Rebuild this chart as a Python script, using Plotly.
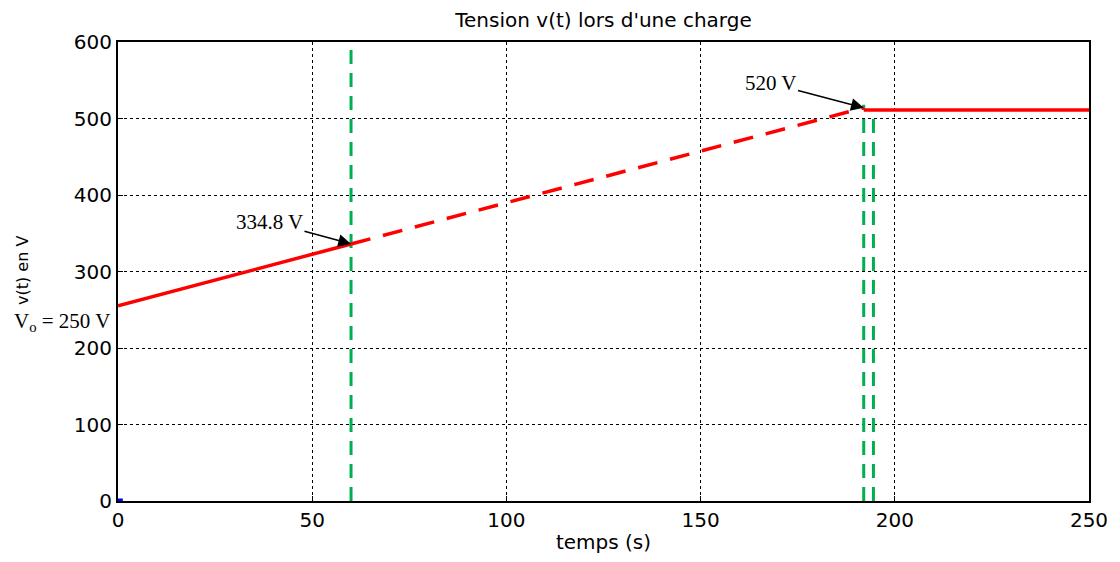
import plotly.graph_objects as go

# ---- data ----
t_charge = [0, 60]
v_charge = [255, 336]
t_dash = [60, 192]
v_dash = [336, 514]
t_final = [192, 250]
v_final = [511, 511]
marker_t = [60, 192, 194.5]
marker_top = [600, 518, 511]
x_ticks = [0, 50, 100, 150, 200, 250]
y_ticks = [0, 100, 200, 300, 400, 500, 600]

RED = "#ff0000"
GREEN = "#00b050"
SANS = "DejaVu Sans, Arial, sans-serif"

fig = go.Figure()

for t, top in zip(marker_t, marker_top):
    fig.add_trace(go.Scatter(x=[t, t], y=[0, top], mode="lines",
                             line=dict(color=GREEN, width=3, dash="14px,9px"),
                             showlegend=False, hoverinfo="skip"))

fig.add_trace(go.Scatter(x=t_charge, y=v_charge, mode="lines",
                         line=dict(color=RED, width=3.5), showlegend=False))
fig.add_trace(go.Scatter(x=t_dash, y=v_dash, mode="lines",
                         line=dict(color=RED, width=3.5, dash="20px,13px"), showlegend=False))
fig.add_trace(go.Scatter(x=t_final, y=v_final, mode="lines",
                         line=dict(color=RED, width=3.5), showlegend=False))
fig.add_trace(go.Scatter(x=[0.6], y=[0], mode="markers",
                         marker=dict(color="blue", size=5, symbol="square"), showlegend=False))

serif = dict(family="Liberation Serif, Times New Roman, serif", size=21, color="black")

fig.add_annotation(x=t_dash[0], y=v_dash[0], ax=39, ay=365, axref="x", ayref="y",
                   xref="x", yref="y", text="334.8 V", showarrow=True, arrowhead=2,
                   arrowsize=1.7, arrowwidth=1.5, arrowcolor="black", font=serif)
fig.add_annotation(x=t_dash[1], y=v_dash[1], ax=168, ay=546, axref="x", ayref="y",
                   xref="x", yref="y", text="520 V", showarrow=True, arrowhead=2,
                   arrowsize=1.7, arrowwidth=1.5, arrowcolor="black", font=serif)
fig.add_annotation(x=0, y=234, xref="x", yref="y", text="V<sub>o</sub> = 250 V",
                   showarrow=False, font=serif, xanchor="right", xshift=-6)

fig.add_annotation(x=-0.10, y=0.502, xref="paper", yref="paper", text="v(t) en V",
                   textangle=-90, showarrow=False, xshift=-10,
                   font=dict(family=SANS, size=16, color="black"))

axis_common = dict(showgrid=True, gridcolor="black", griddash="dot", gridwidth=1,
                   showline=True, linecolor="black", linewidth=2, mirror=True,
                   ticks="inside", ticklen=5, tickcolor="black",
                   tickfont=dict(family=SANS, size=20, color="black"),
                   zeroline=False)

fig.update_layout(
    width=1120, height=562,
    paper_bgcolor="white", plot_bgcolor="white",
    margin=dict(l=118, r=28, t=42, b=60),
    title=dict(text="Tension v(t) lors d'une charge", x=0.5, xref="paper", xanchor="center",
               y=0.965, yanchor="middle",
               font=dict(family=SANS, size=20, color="black")),
    xaxis=dict(range=[0, 250], tickvals=x_ticks,
               title=dict(text="temps (s)", standoff=4,
                          font=dict(family=SANS, size=20, color="black")),
               **axis_common),
    yaxis=dict(range=[0, 600], tickvals=y_ticks, **axis_common),
)

fig.write_html("out.html")
